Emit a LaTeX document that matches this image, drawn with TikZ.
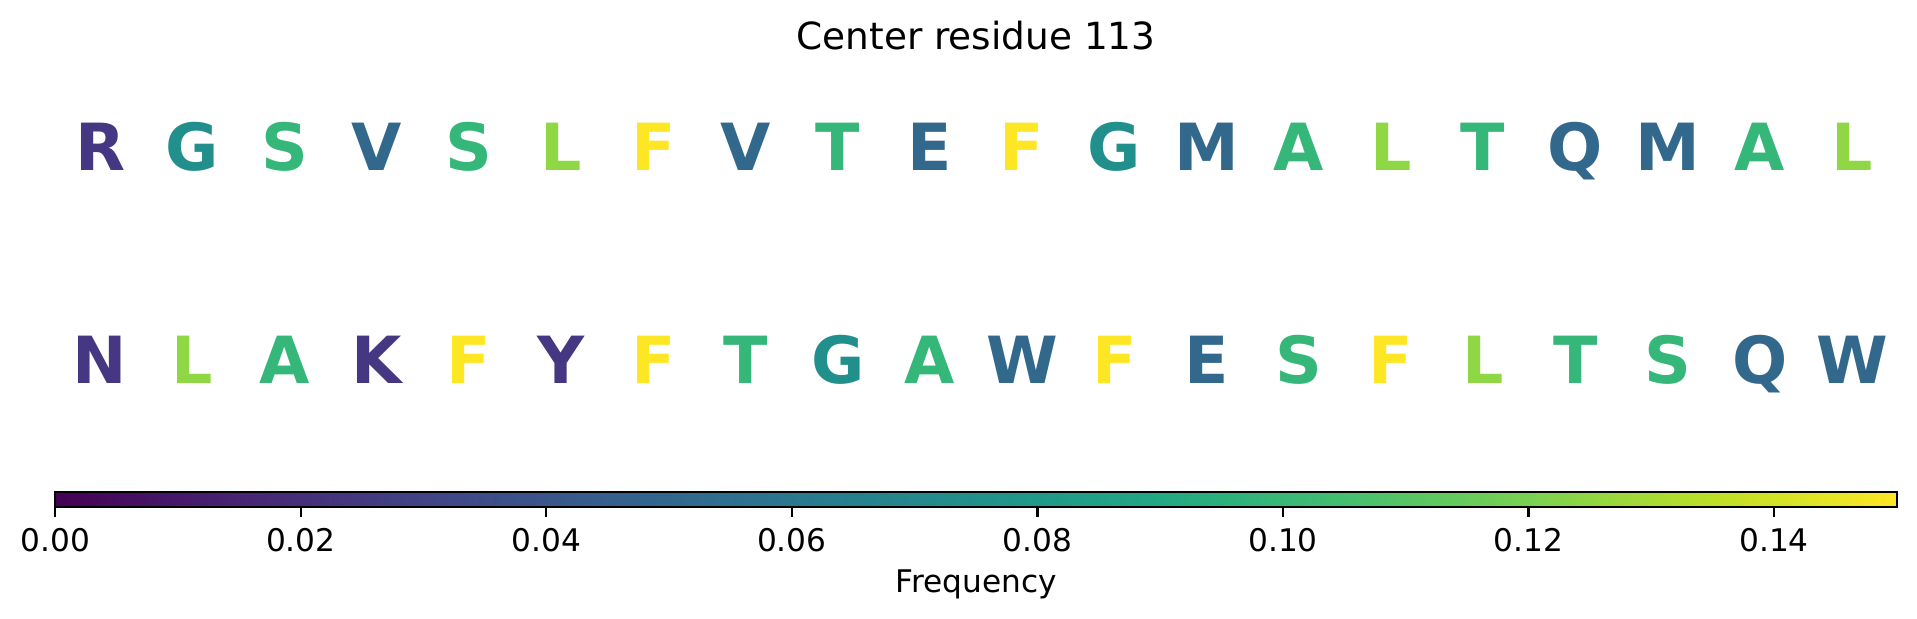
\documentclass[tikz,border=0pt]{standalone}
\usepackage{fontspec}
\setmainfont{DejaVu Sans}
\definecolor{v00}{HTML}{440154}
\definecolor{v01}{HTML}{482475}
\definecolor{v02}{HTML}{414487}
\definecolor{v03}{HTML}{355F8D}
\definecolor{v04}{HTML}{2A788E}
\definecolor{v05}{HTML}{21918C}
\definecolor{v06}{HTML}{22A884}
\definecolor{v07}{HTML}{44BF70}
\definecolor{v08}{HTML}{7AD151}
\definecolor{v09}{HTML}{BDDF26}
\definecolor{v10}{HTML}{FDE725}
\definecolor{vpur}{HTML}{453781}
\definecolor{vblu}{HTML}{33688D}
\definecolor{vtea}{HTML}{21908D}
\definecolor{vgrn}{HTML}{35B779}
\definecolor{vlgr}{HTML}{8FD744}
\definecolor{vyel}{HTML}{FDE725}
\pgfdeclarehorizontalshading{viridis}{100bp}{color(0bp)=(v00); color(25bp)=(v00); color(30bp)=(v01); color(35bp)=(v02); color(40bp)=(v03); color(45bp)=(v04); color(50bp)=(v05); color(55bp)=(v06); color(60bp)=(v07); color(65bp)=(v08); color(70bp)=(v09); color(75bp)=(v10); color(100bp)=(v10)}
\begin{document}
\begin{tikzpicture}[x=0.25pt,y=-0.25pt,
  letter/.style={anchor=base,inner sep=0pt,font=\bfseries\fontsize{16.25}{16.25}\selectfont},
  ticklab/.style={anchor=base,inner sep=0pt,font=\fontsize{7.8}{7.8}\selectfont},
  titlelab/.style={anchor=base,inner sep=0pt,font=\fontsize{9.35}{9.35}\selectfont},
  axline/.style={line width=0.6pt,black}]
\useasboundingbox (0,0) rectangle (1917,619);
% title
\node[titlelab] (title) at (976,50) {Center residue 113};
% row 1
\foreach \c/\col [count=\i from 0] in {R/vpur,G/vtea,S/vgrn,V/vblu,S/vgrn,L/vlgr,F/vyel,V/vblu,T/vgrn,E/vblu,F/vyel,G/vtea,M/vblu,A/vgrn,L/vlgr,T/vgrn,Q/vblu,M/vblu,A/vgrn,L/vlgr}
  \node[letter,text=\col] (ra\i) at ({54+(\i+0.5)*92.2},171) {\c};
% row 2
\foreach \c/\col [count=\i from 0] in {N/vpur,L/vlgr,A/vgrn,K/vpur,F/vyel,Y/vpur,F/vyel,T/vgrn,G/vtea,A/vgrn,W/vblu,F/vyel,E/vblu,S/vgrn,F/vyel,L/vlgr,T/vgrn,S/vgrn,Q/vblu,W/vblu}
  \node[letter,text=\col] (rb\i) at ({54+(\i+0.5)*92.2},384) {\c};
% colorbar
\shade[shading=viridis] (55.2,492.2) rectangle (1896.8,506.8);
\draw[axline] (55.2,492.2) rectangle (1896.8,506.8);
\foreach \v/\lab [count=\i from 0] in {0/0.00,0.02/0.02,0.04/0.04,0.06/0.06,0.08/0.08,0.10/0.10,0.12/0.12,0.14/0.14}{
  \draw[axline] ({55.2+\v/0.15*1841.6},506.8) -- ({55.2+\v/0.15*1841.6},517.3);
  \node[ticklab] (tick\i) at ({55.2+\v/0.15*1841.6},552) {\lab};
}
\node[ticklab] (cblabel) at (976,593) {Frequency};
\end{tikzpicture}
\end{document}
